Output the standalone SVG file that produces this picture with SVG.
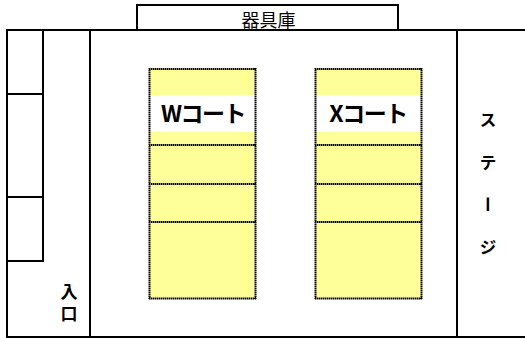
<svg xmlns="http://www.w3.org/2000/svg" width="525" height="338" viewBox="0 0 525 338">
<style>
.w{fill:none;stroke:#000;stroke-width:2}
.d{fill:none;stroke:#000;stroke-width:2;stroke-dasharray:1.500 .5}
.y{fill:#ffff99}
.t{font-family:"Noto Sans CJK JP","Noto Sans",sans-serif;fill:#000;text-anchor:middle}
.v{font-family:"Noto Sans CJK JP","Noto Sans",sans-serif;fill:#000;writing-mode:vertical-rl;font-size:17px;font-weight:700}
.c{font-size:23px;font-weight:700;letter-spacing:-1.500px}
</style>
<rect width="525" height="338" fill="#fff"/>
<g id="connectors">
<path class="w" d="M137 30V5H398V30"/>
<path class="w" d="M525 30H7V337H525"/>
<path class="w" d="M43 30V261H7M7 94H43M7 197H43"/>
<path class="w" d="M90 30V337M457 30V337"/>
</g>
<g id="storage"><text class="t" x="268.500" y="26.500" font-size="18">器具庫</text></g>
<g id="entrance"><text class="v" x="69" y="283.500" letter-spacing="5">入口</text></g>
<g id="stage"><text class="v" x="488" y="111.500" letter-spacing="25.500">ステージ</text></g>
<g id="court-w">
<rect class="y" x="149" y="68" width="107" height="231"/>
<rect x="149" y="95" width="107" height="37" fill="#fff"/>
<path class="d" d="M149 69H256M149 145H256M149 184H256M149 222H256M149 298.500H256M149.500 68V299M255.500 68V299"/>
<text class="t c" x="203" y="121.500">Wコート</text>
</g>
<g id="court-x">
<rect class="y" x="315" y="68" width="107" height="231"/>
<rect x="315" y="95" width="107" height="37" fill="#fff"/>
<path class="d" d="M315 69H422M315 145H422M315 184H422M315 222H422M315 298.500H422M315.500 68V299M421.500 68V299"/>
<text class="t c" x="368" y="121.500">Xコート</text>
</g>
</svg>
